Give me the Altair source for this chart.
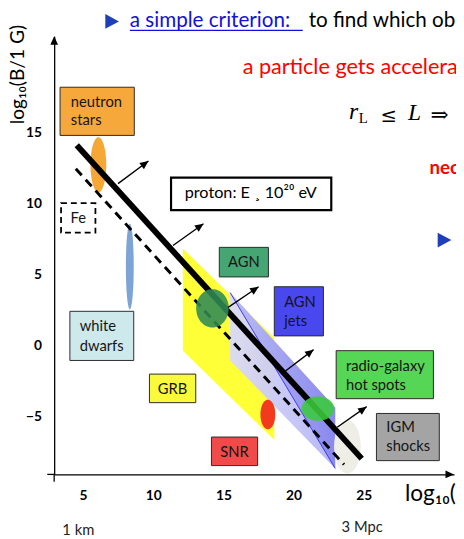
import math
import numpy as np
import pandas as pd
import altair as alt

# ---------------- data (log10 L [km], log10 B [G]) ----------------
X_DOMAIN = [2.94, 31.44]
Y_DOMAIN = [-9.04, 21.80]
x_ticks = [5, 10, 15, 20, 25]
y_ticks = [-5, 0, 5, 10, 15]

# source boxes (label boxes)
box_names = ["neutron stars", "white dwarfs", "AGN", "AGN jets",
             "radio-galaxy hot spots", "IGM shocks", "GRB", "SNR"]
box_x1 = [3.36, 4.06, 14.71, 18.63, 23.04, 25.91, 9.73, 14.15]
box_x2 = [8.65, 8.61, 18.21, 22.13, 29.97, 30.39, 13.03, 17.44]
box_y1 = [14.82, -1.02, 4.86, 0.71, -3.71, -8.07, -3.99, -8.42]
box_y2 = [18.21, 2.44, 6.94, 4.17, -0.33, -4.75, -1.98, -6.41]

fe_box = [3.43, 5.88, 7.97, 10.05]          # x1, x2, y1, y2
proton_box = [11.27, 22.69, 9.56, 11.85]

# box labels
left_text = ["neutron", "stars", "white", "dwarfs", "AGN", "jets",
             "radio-galaxy", "hot spots", "IGM", "shocks"]
left_x = [4.13, 4.13, 4.76, 4.76, 19.33, 19.33, 23.74, 23.74, 26.61, 26.61]
left_y = [17.17, 15.92, 1.40, 0.02, 3.06, 1.74, -1.44, -2.75, -5.72, -7.04]
center_text = ["Fe", "AGN", "GRB", "SNR"]
center_x = [4.66, 16.46, 11.38, 15.79]
center_y = [9.01, 5.89, -3.03, -7.45]
proton_text = "proton: E \u00b8 10\u00b2\u2070 eV"
proton_xy = [16.95, 10.73]

# object ellipses: centre and half-extent
ell_names = ["neutron stars", "white dwarfs", "IGM", "SNR", "AGN", "hot spots"]
ell_cx = [6.09, 8.33, 23.84, 18.17, 14.22, 21.74]
ell_cy = [12.75, 5.59, -7.10, -4.82, 2.65, -4.41]
ell_rx = [0.56, 0.28, 0.95, 0.53, 1.16, 1.16]
ell_ry = [1.94, 3.01, 1.87, 1.04, 1.35, 0.86]

# parallelogram regions: x left/right, top y, bottom y
grb_x = [12.11, 18.63]
grb_top = [6.86, 0.57]
grb_bot = [-0.33, -6.62]
jet_x = [15.48, 22.97]
jet_top = [3.76, -4.34]
jet_bot = [-1.02, -8.62]

# Hillas lines
solid_line = [4.55, 14.12, 24.86, -7.93]
dashed_line = [4.48, 12.47, 23.60, -8.35]

# arrows (start -> tip)
arr_x1 = [7.49, 11.41, 15.34, 19.40, 23.11]
arr_y1 = [11.43, 7.07, 2.72, -1.78, -5.72]
arr_x2 = [9.66, 13.58, 17.51, 21.43, 25.21]
arr_y2 = [13.02, 8.60, 4.17, -0.26, -4.27]

# bullet markers of the slide
bullet_x = [7.03, 30.72]
bullet_y = [22.84, 7.45]

# ---------------- styles ----------------
W, H = 407, 446
SX = W / (X_DOMAIN[1] - X_DOMAIN[0])
SY = H / (Y_DOMAIN[1] - Y_DOMAIN[0])
BOX_FILL = {"neutron stars": "#F6A83A", "white dwarfs": "#CDE9EC", "AGN": "#45A673",
            "AGN jets": "#4848EE", "radio-galaxy hot spots": "#55D655",
            "IGM shocks": "#A4A4A4", "GRB": "#FAFA3C", "SNR": "#F04A4A"}
ELL_FILL = {"neutron stars": "#F7A733", "white dwarfs": "#7EA4D6", "IGM": "#EEEEE6",
            "SNR": "#F23A1E", "AGN": "#2F8A55", "hot spots": "#3BCB3B"}
ELL_TOP = {"AGN", "hot spots"}
ARROW = "M0,0L0.45,1L-0.45,1Z"
BULLET = "M-0.85,-1L1,0L-0.85,1Z"
FONT = "Lato"

XS = alt.Scale(domain=X_DOMAIN, nice=False, zero=False)
YS = alt.Scale(domain=Y_DOMAIN, nice=False, zero=False)
AX_COMMON = dict(title=None, grid=False, ticks=False, domain=True, domainColor="black",
                 domainWidth=1.3, labelFont=FONT, labelFontWeight="bold",
                 labelFontSize=14, labelColor="black", labelFlush=False)
XAX = alt.Axis(values=x_ticks, labelPadding=15, **AX_COMMON)
YAX = alt.Axis(values=y_ticks, labelPadding=13, **AX_COMMON)


def ex(f):
    return alt.X(f, type="quantitative", scale=XS, axis=XAX)


def ey(f):
    return alt.Y(f, type="quantitative", scale=YS, axis=YAX)


layers = []

# GRB region (yellow)
grb = pd.DataFrame({"x": grb_x, "y": grb_top, "y2": grb_bot})
layers.append(alt.Chart(grb).mark_area(color="#FFFF38", opacity=1).encode(
    x=ex("x"), y=ey("y"), y2=alt.Y2("y2")))

# jets region (blue gradient)
jet = pd.DataFrame({"x": jet_x, "y": jet_top, "y2": jet_bot})
grad = alt.Gradient(gradient="linear", x1=0, x2=1, y1=0, y2=0,
                    stops=[alt.GradientStop(color="#DADAF9", offset=0),
                           alt.GradientStop(color="#B4B4F4", offset=1)])
layers.append(alt.Chart(jet).mark_area(color=grad, opacity=0.95).encode(
    x=ex("x"), y=ey("y"), y2=alt.Y2("y2")))
jet_tri = pd.DataFrame({"x": jet_x, "y": jet_top, "y2": [jet_top[0], jet_bot[1]]})
grad2 = alt.Gradient(gradient="linear", x1=0, x2=1, y1=0, y2=0,
                     stops=[alt.GradientStop(color="#B8B8F5", offset=0),
                            alt.GradientStop(color="#8484EE", offset=1)])
layers.append(alt.Chart(jet_tri).mark_area(color=grad2, opacity=0.9).encode(
    x=ex("x"), y=ey("y"), y2=alt.Y2("y2")))
layers.append(alt.Chart(pd.DataFrame({"x": [jet_x[0]], "y": [jet_top[0]], "x2": [jet_x[1]], "y2": [jet_bot[1]]}))
              .mark_rule(color="#3A3AE6", strokeWidth=1).encode(
    x=ex("x"), y=ey("y"), x2=alt.X2("x2"), y2=alt.Y2("y2")))


def ellipse_frame(names):
    rows = []
    for n, cx, cy, rx, ry in zip(ell_names, ell_cx, ell_cy, ell_rx, ell_ry):
        if n not in names:
            continue
        for t in np.linspace(math.pi, 0, 61):
            dy = ry * math.sin(t)
            rows.append({"name": n, "x": cx + rx * math.cos(t), "y": cy + dy,
                         "y2": cy - dy, "fill": ELL_FILL[n]})
    return pd.DataFrame(rows)


under = ellipse_frame([n for n in ell_names if n not in ELL_TOP])
layers.append(alt.Chart(under).mark_area(opacity=1).encode(
    x=ex("x"), y=ey("y"), y2=alt.Y2("y2"),
    color=alt.Color("fill:N", scale=None), detail="name:N"))

# Hillas lines
sl = pd.DataFrame({"x": [solid_line[0]], "y": [solid_line[1]], "x2": [solid_line[2]], "y2": [solid_line[3]]})
layers.append(alt.Chart(sl).mark_rule(color="black", strokeWidth=6).encode(
    x=ex("x"), y=ey("y"), x2=alt.X2("x2"), y2=alt.Y2("y2")))
dl = pd.DataFrame({"x": [dashed_line[0]], "y": [dashed_line[1]], "x2": [dashed_line[2]], "y2": [dashed_line[3]]})
layers.append(alt.Chart(dl).mark_rule(color="black", strokeWidth=3, strokeDash=[9, 6]).encode(
    x=ex("x"), y=ey("y"), x2=alt.X2("x2"), y2=alt.Y2("y2")))

top = ellipse_frame(list(ELL_TOP))
layers.append(alt.Chart(top).mark_area(opacity=0.88).encode(
    x=ex("x"), y=ey("y"), y2=alt.Y2("y2"),
    color=alt.Color("fill:N", scale=None), detail="name:N"))

# boxes
boxes = pd.DataFrame({"name": box_names, "x": box_x1, "x2": box_x2, "y": box_y1, "y2": box_y2,
                      "fill": [BOX_FILL[n] for n in box_names]})
layers.append(alt.Chart(boxes).mark_rect(stroke="#2a2a2a", strokeWidth=1, opacity=1).encode(
    x=ex("x"), x2=alt.X2("x2"), y=ey("y"), y2=alt.Y2("y2"),
    color=alt.Color("fill:N", scale=None)))
fe = pd.DataFrame({"x": [fe_box[0]], "x2": [fe_box[1]], "y": [fe_box[2]], "y2": [fe_box[3]]})
layers.append(alt.Chart(fe).mark_rect(fill="white", stroke="black", strokeWidth=1.8,
                                      strokeDash=[6, 4]).encode(
    x=ex("x"), x2=alt.X2("x2"), y=ey("y"), y2=alt.Y2("y2")))
pb = pd.DataFrame({"x": [proton_box[0]], "x2": [proton_box[1]], "y": [proton_box[2]], "y2": [proton_box[3]]})
layers.append(alt.Chart(pb).mark_rect(fill="white", stroke="black", strokeWidth=2.2).encode(
    x=ex("x"), x2=alt.X2("x2"), y=ey("y"), y2=alt.Y2("y2")))

# box labels
lt = pd.DataFrame({"t": left_text, "x": left_x, "y": left_y})
layers.append(alt.Chart(lt).mark_text(font=FONT, fontSize=15, align="left", baseline="middle",
                                      color="#151515").encode(x=ex("x"), y=ey("y"), text="t:N"))
ct = pd.DataFrame({"t": center_text, "x": center_x, "y": center_y})
layers.append(alt.Chart(ct).mark_text(font=FONT, fontSize=15, align="center", baseline="middle",
                                      color="#151515").encode(x=ex("x"), y=ey("y"), text="t:N"))
pt = pd.DataFrame({"t": [proton_text], "x": [proton_xy[0]], "y": [proton_xy[1]]})
layers.append(alt.Chart(pt).mark_text(font=FONT, fontSize=16.5, align="center", baseline="middle",
                                      color="black").encode(x=ex("x"), y=ey("y"), text="t:N"))

# arrows
arr = pd.DataFrame({"x": arr_x1, "y": arr_y1, "x2": arr_x2, "y2": arr_y2})
arr["ang"] = [(math.degrees(math.atan2((b - a) * SX, (d - c) * SY)) + 360) % 360
              for a, b, c, d in zip(arr_x1, arr_x2, arr_y1, arr_y2)]
layers.append(alt.Chart(arr).mark_rule(color="black", strokeWidth=1.4).encode(
    x=ex("x"), y=ey("y"), x2=alt.X2("x2"), y2=alt.Y2("y2")))
layers.append(alt.Chart(arr).mark_point(shape=ARROW, filled=True, size=300, color="black",
                                        opacity=1, strokeWidth=0).encode(
    x=ex("x2"), y=ey("y2"), angle=alt.Angle("ang:Q", scale=None)))

# axis arrowheads and small overhangs
axh = pd.DataFrame({"x": [X_DOMAIN[1], X_DOMAIN[0]], "y": [Y_DOMAIN[0], Y_DOMAIN[1]], "ang": [90, 0]})
layers.append(alt.Chart(axh).mark_point(shape=ARROW, filled=True, size=300, color="black",
                                        opacity=1, strokeWidth=0).encode(
    x=ex("x"), y=ey("y"), angle=alt.Angle("ang:Q", scale=None)))
ov = pd.DataFrame({"x": [2.45, X_DOMAIN[0]], "x2": [X_DOMAIN[0], X_DOMAIN[0]],
                   "y": [Y_DOMAIN[0], Y_DOMAIN[0]], "y2": [Y_DOMAIN[0], -9.55]})
layers.append(alt.Chart(ov).mark_rule(color="black", strokeWidth=1.3).encode(
    x=ex("x"), y=ey("y"), x2=alt.X2("x2"), y2=alt.Y2("y2")))

# bullets
bl = pd.DataFrame({"x": bullet_x, "y": bullet_y})
layers.append(alt.Chart(bl).mark_point(shape=BULLET, filled=True, size=225, color="#1F3FB8",
                                       opacity=1, strokeWidth=0).encode(x=ex("x"), y=ey("y")))


def note(t, x, y, **kw):
    df = pd.DataFrame({"t": [t], "x": [x], "y": [y]})
    return alt.Chart(df).mark_text(**kw).encode(x=ex("x"), y=ey("y"), text="t:N")


# axis titles and scale notes
layers.append(note("log\u2081\u2080(B/1 G)", 0.35, 19.10, font=FONT, fontSize=19.5, angle=270,
                   align="center", baseline="middle", color="black"))
layers.append(note("log\u2081\u2080(L/1 km)", 27.94, -10.91, font=FONT, fontSize=23,
                   align="left", baseline="alphabetic", color="black"))
layers.append(note("1 km", 4.66, -12.99, font=FONT, fontSize=15, align="center",
                   baseline="middle", color="#222"))
layers.append(note("3 Mpc", 24.89, -12.78, font=FONT, fontSize=15, align="center",
                   baseline="middle", color="#222"))

# slide text around the diagram
layers.append(note("a simple criterion:", 8.33, 22.42, font=FONT, fontSize=21, align="left",
                   baseline="alphabetic", color="#1010E0"))
ul = pd.DataFrame({"x": [8.33], "x2": [20.66], "y": [22.21]})
layers.append(alt.Chart(ul).mark_rule(color="#1010E0", strokeWidth=1.3).encode(
    x=ex("x"), x2=alt.X2("x2"), y=ey("y")))
layers.append(note("to find which ob", 21.08, 22.42, font=FONT, fontSize=21, align="left",
                   baseline="alphabetic", color="black"))
layers.append(note("a particle gets accelera", 16.38, 19.17, font=FONT, fontSize=22,
                   align="left", baseline="alphabetic", color="#FF0000"))
layers.append(note("r", 23.95, 15.99, font="Liberation Serif", fontSize=24, fontStyle="italic",
                   align="left", baseline="alphabetic", color="black"))
layers.append(note("L", 24.65, 15.71, font="Liberation Serif", fontSize=15,
                   align="left", baseline="alphabetic", color="black"))
layers.append(note("\u2264", 26.19, 15.78, font="DejaVu Serif", fontSize=20,
                   align="left", baseline="alphabetic", color="black"))
layers.append(note("L", 28.15, 15.92, font="Liberation Serif", fontSize=24, fontStyle="italic",
                   align="left", baseline="alphabetic", color="black"))
layers.append(note("\u21d2", 29.76, 16.27, font="DejaVu Serif", fontSize=22,
                   align="left", baseline="middle", color="black"))
layers.append(note("nec", 29.69, 12.12, font=FONT, fontSize=19, fontWeight="bold",
                   align="left", baseline="alphabetic", color="#FF0000"))

chart = alt.layer(*layers).properties(
    width=W, height=H,
    padding={"left": 47, "top": 24, "right": 2, "bottom": 61},
    autosize=alt.AutoSizeParams(type="none"),
    background="white",
).configure_view(stroke=None)

chart.save("out.html", embed_options={"renderer": "svg", "actions": False})
